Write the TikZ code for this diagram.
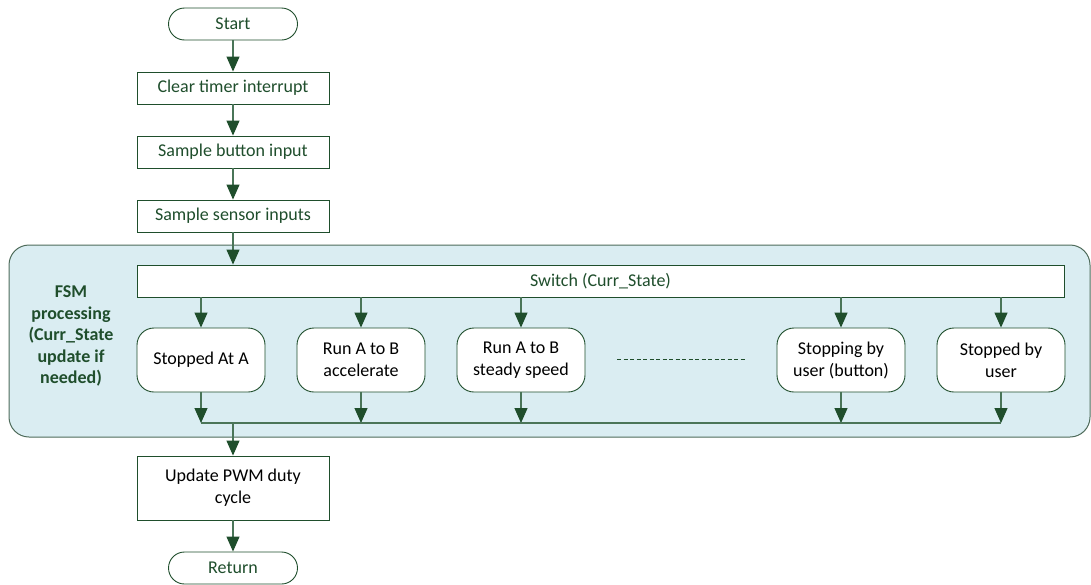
\documentclass[tikz,border=0pt]{standalone}
\usepackage{fontspec}
\setmainfont{Carlito}
\usetikzlibrary{arrows.meta}
\definecolor{dgreen}{HTML}{1F4E2C}
\definecolor{lgreen}{HTML}{4A7558}
\definecolor{panelfill}{HTML}{DAEDF2}
\definecolor{panelline}{HTML}{4E6B5A}
\tikzset{
  box/.style={draw=dgreen, line width=0.9pt, fill=white, minimum width=192pt, minimum height=32pt, inner sep=0pt, text=dgreen, align=center},
  term/.style={draw=dgreen, line width=0.9pt, fill=white, rounded corners=16pt, minimum width=129pt, minimum height=32pt, inner sep=0pt, text=dgreen},
  state/.style={draw=dgreen, line width=0.9pt, fill=white, rounded corners=17pt, minimum width=128pt, minimum height=64pt, inner sep=0pt, text=black, align=center},
  flow/.style={draw=lgreen, line width=1.2pt, -{Triangle[length=15pt,width=13pt,color=dgreen]}},
  plain/.style={draw=lgreen, line width=1.2pt},
}
\begin{document}
\begin{tikzpicture}[x=1pt,y=-1pt,font=\fontsize{18}{22}\selectfont]
\useasboundingbox (0,0) rectangle (1091,584);
\node[draw=panelline, line width=1pt, fill=panelfill, rounded corners=20pt, minimum width=1081pt, minimum height=192pt, inner sep=0pt] (panel) at (549.5,341) {};
\node[text=dgreen, font=\fontsize{18}{21.5}\selectfont\bfseries, align=center] (fsmlabel) at (71,336) {FSM\\processing\\(Curr\_State\\update if\\needed)};
\node[term] (start) at (233,24) {Start};
\node[box] (clear) at (233,88) {Clear timer interrupt};
\node[box] (button) at (233,152) {Sample button input};
\node[box] (sensor) at (233,216) {Sample sensor inputs};
\node[box, minimum width=927pt] (switch) at (600.5,281) {Switch (Curr\_State)};
\node[state] (s1) at (201,360) {Stopped At A};
\node[state] (s2) at (361,360) {Run A to B\\accelerate};
\node[state] (s3) at (521,360) {Run A to B\\steady speed};
\node[state] (s4) at (841,360) {Stopping by\\user (button)};
\node[state] (s5) at (1001,360) {Stopped by\\user};
\node[box, minimum height=64pt, text=black] (pwm) at (233,488) {Update PWM duty\\cycle};
\node[term] (ret) at (233,568) {Return};
\coordinate (mleft) at (201,423);
\coordinate (mright) at (1001,423);
\coordinate (mjoin) at (233,423);
\draw[flow] (start) -- (clear);
\draw[flow] (clear) -- (button);
\draw[flow] (button) -- (sensor);
\draw[flow] (sensor.south) -- (sensor.south |- switch.north);
\foreach \s in {s1,s2,s3,s4,s5}{
  \draw[flow] (\s.north |- switch.south) -- (\s.north);
  \draw[flow] (\s.south) -- (\s.south |- mleft);
}
\draw[plain] (mleft) -- (mright);
\draw[flow] (mjoin) -- (pwm.north);
\draw[flow] (pwm) -- (ret);
\draw[draw=dgreen, line width=0.6pt, dash pattern=on 4pt off 2.5pt] (617,359) -- (745,359);
\end{tikzpicture}
\end{document}
